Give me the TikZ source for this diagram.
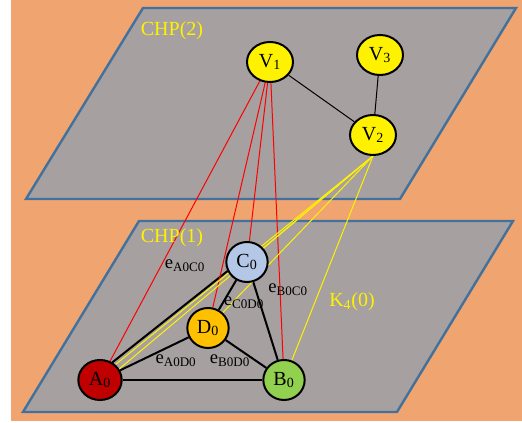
\documentclass[tikz,border=0pt]{standalone}
\usepackage{fontspec}
\setmainfont{Liberation Serif}
\usetikzlibrary{shapes.geometric}

\definecolor{bgorange}{RGB}{240,164,112}
\definecolor{planegray}{RGB}{166,160,160}
\definecolor{planeblue}{RGB}{65,113,156}
\definecolor{adark}{RGB}{192,0,0}
\definecolor{bgreen}{RGB}{146,208,80}
\definecolor{cblue}{RGB}{180,199,231}
\definecolor{dorange}{RGB}{255,192,0}

\pgfdeclarelayer{planes}
\pgfdeclarelayer{edges}
\pgfsetlayers{planes,edges,main}

\tikzset{
	plane/.style={fill=planegray, draw=planeblue, line width=1.8pt, line join=miter},
	upvert/.style={ellipse, draw=black, line width=1.5pt, fill=yellow, inner sep=0pt,
		minimum width=34.5pt, minimum height=30pt, font=\fontsize{15}{15}\selectfont},
	lowvert/.style={ellipse, draw=black, line width=1.5pt, inner sep=0pt,
		minimum width=31pt, minimum height=30pt, font=\fontsize{15}{15}\selectfont},
	link/.style={draw=black, line width=1.5pt},
	thinlink/.style={draw=black, line width=0.75pt},
	redlink/.style={draw=red, line width=0.75pt},
	yellink/.style={draw=yellow, line width=0.75pt},
	elabel/.style={font=\fontsize{14}{14}\selectfont, inner sep=0pt},
	planelabel/.style={text=yellow, font=\fontsize{15}{15}\selectfont, inner sep=0pt}
}

\begin{document}
\begin{tikzpicture}[x=0.75pt, y=-0.75pt]
%	helplines
%	\draw[thin] (0,0) grid[step=10] (522,423);
	\useasboundingbox (0,0) rectangle (522,423);

	\begin{pgfonlayer}{planes}
	\fill[bgorange] (11,0) rectangle (522,421);
	\draw[plane] (143,8) -- (516,8) -- (400,199) -- (26,199) -- cycle;
	\draw[plane] (139,221) -- (513,221) -- (397,412) -- (23,412) -- cycle;
	\end{pgfonlayer}

	\node (chp2)[planelabel] at (172,31) {CHP(2)};
	\node (chp1)[planelabel] at (172,238) {CHP(1)};
	\node (k4)[planelabel] at (352,302) {K\textsubscript{4}(0)};

	\node (v1)[upvert] at (270,62) {V\textsubscript{1}};
	\node (v3)[upvert] at (380,55) {V\textsubscript{3}};
	\node (v2)[upvert] at (373,135) {V\textsubscript{2}};

	\node (c0)[lowvert, fill=cblue] at (247,262) {C\textsubscript{0}};
	\node (d0)[lowvert, fill=dorange] at (208,328) {D\textsubscript{0}};
	\node (a0)[lowvert, fill=adark, minimum width=32.5pt] at (100,380) {A\textsubscript{0}};
	\node (b0)[lowvert, fill=bgreen] at (284,380) {B\textsubscript{0}};

	\node (eac)[elabel] at (185,266) {e\textsubscript{A0C0}};
	\node (ecd)[elabel] at (244,303) {e\textsubscript{C0D0}};
	\node (ebc)[elabel] at (288,290) {e\textsubscript{B0C0}};
	\node (ead)[elabel] at (176,361) {e\textsubscript{A0D0}};
	\node (ebd)[elabel] at (230,361) {e\textsubscript{B0D0}};

	\begin{pgfonlayer}{edges}
	\draw[thinlink] (v1) -- (v2);
	\draw[thinlink] (v3) -- (v2);

	\draw[link] (a0.55) -- (c0.205);
	\draw[link] (a0) -- (d0);
	\draw[link] (a0) -- (b0);
	\draw[link] (d0) -- (c0);
	\draw[link] (d0) -- (b0);
	\draw[link] (c0) -- (b0);

	\draw[redlink] (v1) -- (a0);
	\draw[redlink] (v1) -- (d0);
	\draw[redlink] (v1) -- (c0);
	\draw[redlink] (v1) -- (b0);

	\draw[yellink] (v2.south) -- (a0.45);
	\draw[yellink] (v2.south) -- (a0.30);
	\draw[yellink] (v2.south) -- (c0);
	\draw[yellink] (v2.south) -- (d0);
	\draw[yellink] (v2.south) -- (b0);
	\end{pgfonlayer}

\end{tikzpicture}
\end{document}
